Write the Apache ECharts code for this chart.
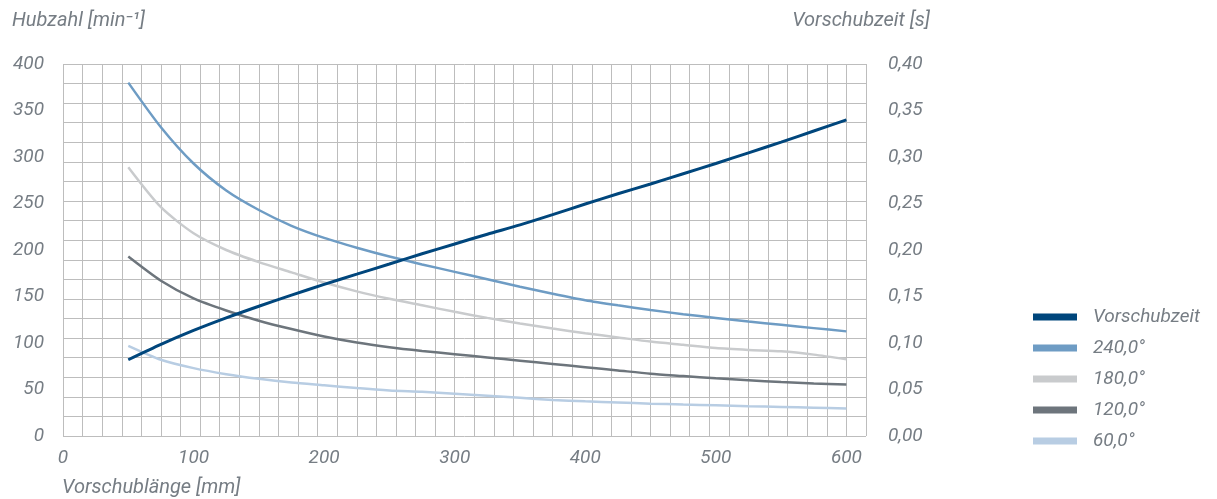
<!DOCTYPE html>
<html>
<head>
<meta charset="utf-8">
<script src="https://cdn.jsdelivr.net/npm/echarts@6/dist/echarts.min.js"></script>
<style>
html,body{margin:0;padding:0;background:#fff;}
#chart{width:1217px;height:499px;}
</style>
</head>
<body>
<div id="chart"></div>
<script>
// Data
const xValues = [50,75,100,125,150,175,200,225,250,275,300,325,350,375,400,425,450,475,500,525,550,575,600];
const vorschubzeit = [0.082,0.0985,0.1135,0.127,0.1395,0.1515,0.163,0.174,0.185,0.196,0.2065,0.217,0.227,0.238,0.2495,0.2605,0.271,0.282,0.293,0.3045,0.316,0.328,0.340];
const hub240 = [380,332,293,264,243,226,213,202.5,193,184.5,176.5,168.5,160.5,153,146,140.5,135.5,131,127,123,119.5,116,112.5];
const hub180 = [289,246,218,200,187,176,165,155.5,147.5,140.5,133.5,127,121,115.5,110.5,106,101.5,98,94.5,92.5,91,87.5,82.5];
const hub120 = [193,167,148,135,124,115,107,100.5,95.5,91.5,88,84.5,81,77.5,74,70.5,67,64.5,62,60,58,56.5,55.5];
const hub60  = [97,82,73,66.5,61.5,57.5,54.5,51.5,49,47.5,45.5,43.3,41,38.8,37.3,36,34.8,33.8,33,32,31.2,30.4,29.7];
const seriesNames = ['Vorschubzeit','240,0°','180,0°','120,0°','60,0°'];
const leftTicks = [0,50,100,150,200,250,300,350,400];
const rightTicks = [0,0.05,0.10,0.15,0.20,0.25,0.30,0.35,0.40];

const textColor = '#767d84';
const font = 'Roboto';
const pairs = arr => xValues.map((x,i) => [x, arr[i]]);

const chart = echarts.init(document.getElementById('chart'), null, {renderer:'canvas'});
const lineSeries = (name, data, color, yIdx, width, z) => ({
  name, type:'line', xAxisIndex:0, yAxisIndex:yIdx, data: pairs(data),
  showSymbol:false, symbol:'none', smooth:0.25,
  lineStyle:{color, width}, itemStyle:{color}, z, animation:false
});

chart.setOption({
  animation:false,
  grid:{left:63, right:351, top:64, height:372, containLabel:false},
  xAxis:[
    {type:'value', min:0, max:615, interval:15,
     axisLine:{show:false}, axisTick:{show:false}, axisLabel:{show:false},
     splitLine:{show:true, lineStyle:{color:'#bdbdbd', width:1}}},
    {type:'value', min:0, max:615, interval:100, position:'bottom',
     axisLine:{show:false}, axisTick:{show:false}, splitLine:{show:false},
     axisLabel:{show:true, margin:13, color:textColor, fontFamily:font, fontStyle:'italic', fontSize:19,
       formatter: v => (v <= 600 ? String(v) : '')}, showMaxLabel:false}
  ],
  yAxis:[
    {type:'value', min:leftTicks[0], max:leftTicks[leftTicks.length-1], interval:50, position:'left',
     axisLine:{show:false}, axisTick:{show:false}, splitLine:{show:false},
     axisLabel:{margin:19, color:textColor, fontFamily:font, fontStyle:'italic', fontSize:19}},
    {type:'value', min:rightTicks[0], max:rightTicks[rightTicks.length-1], interval:0.05, position:'right',
     axisLine:{show:false}, axisTick:{show:false}, splitLine:{show:false},
     axisLabel:{margin:22, color:textColor, fontFamily:font, fontStyle:'italic', fontSize:19, align:'left',
       formatter: v => v.toFixed(2).replace('.', ',')}},
    {type:'value', min:0, max:19, interval:1, position:'left',
     axisLine:{show:false}, axisTick:{show:false}, axisLabel:{show:false},
     splitLine:{show:true, lineStyle:{color:'#bdbdbd', width:1}}}
  ],
  legend:{
    orient:'vertical', left:1028, top:302, itemWidth:44, itemHeight:7, itemGap:11,
    icon:'rect', data:seriesNames,
    textStyle:{color:textColor, fontFamily:font, fontStyle:'italic', fontSize:19, lineHeight:20, padding:[0,0,0,11]}
  },
  graphic:[
    {type:'text', left:12, top:11, style:{text:'Hubzahl [min⁻¹]', fill:textColor, font:'italic 20px Roboto'}},
    {type:'text', right:1217-930, top:11, style:{text:'Vorschubzeit [s]', fill:textColor, font:'italic 20px Roboto'}},
    {type:'text', left:62, top:478, style:{text:'Vorschublänge [mm]', fill:textColor, font:'italic 20px Roboto'}}
  ],
  series:[
    lineSeries(seriesNames[1], hub240, '#6e9cc4', 0, 2.5, 3),
    lineSeries(seriesNames[2], hub180, '#c9cbcd', 0, 2.5, 3),
    lineSeries(seriesNames[3], hub120, '#6d757c', 0, 2.5, 3),
    lineSeries(seriesNames[4], hub60,  '#b8cde3', 0, 2.5, 3),
    lineSeries(seriesNames[0], vorschubzeit, '#00467c', 1, 3, 4)
  ]
});
</script>
</body>
</html>
